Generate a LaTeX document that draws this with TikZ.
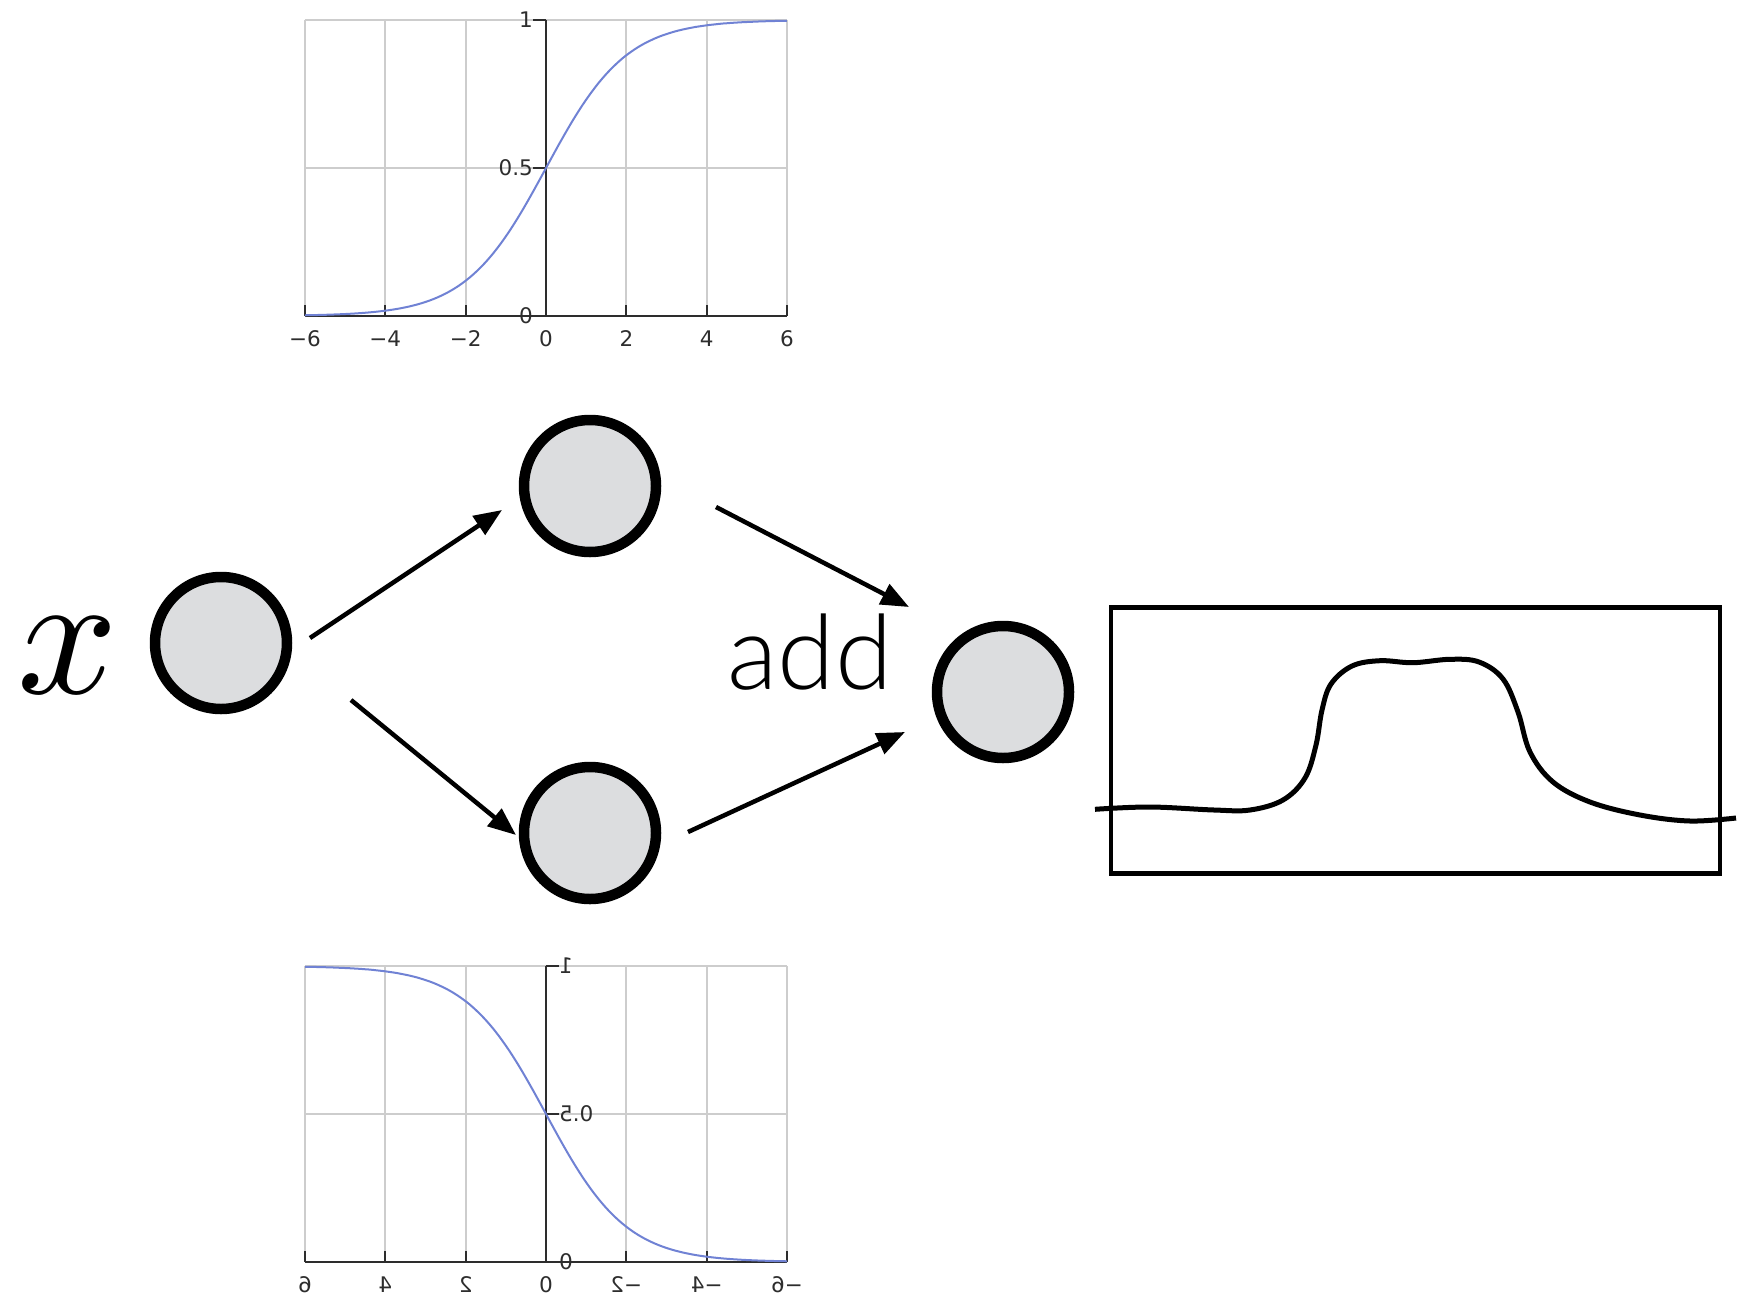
\documentclass[tikz,border=0pt]{standalone}
\usepackage{graphicx}
\usepackage{fontspec}
\usetikzlibrary{arrows.meta}
\newfontfamily\tickfont{DejaVu Sans}
\newfontfamily\addfont{Lato Light}
\definecolor{nodefill}{RGB}{220,221,223}
\definecolor{gridgray}{RGB}{205,205,205}
\definecolor{curveblue}{RGB}{112,130,212}
\definecolor{axisdark}{RGB}{45,45,45}
\tikzset{
  neuron/.style={circle, draw=black, line width=10.5pt, fill=nodefill, minimum size=132pt, inner sep=0pt},
  conn/.style={line width=4.5pt, -{Triangle[length=28pt,width=22pt]}},
  gridline/.style={gridgray, line width=2pt},
  axisline/.style={axisdark, line width=2pt},
  sigcurve/.style={curveblue, line width=2pt},
  ticklabel/.style={font=\tickfont\fontsize{21.5}{25}\selectfont, text=axisdark, inner sep=0pt},
}
\newcommand{\sigmoidplot}{%
  \foreach \xv in {-6,-4,-2,2,4,6} \draw[gridline] (\xv,0) -- (\xv,1);
  \draw[gridline] (-6,0.5) -- (6,0.5);
  \draw[gridline] (-6,1) -- (6,1);
  \draw[axisline] (-6,0) -- (6,0);
  \draw[axisline] (0,0) -- (0,1);
  \foreach \xv in {-6,-4,-2,0,2,4,6} \draw[axisline] (\xv,0) -- ++(0pt,11pt);
  \foreach \yv in {0,0.5,1} \draw[axisline] (0,\yv) -- ++(-13pt,0pt);
  \draw[sigcurve] plot[domain=-6:6, samples=121, smooth] (\x,{1/(1+exp(-\x))});
  \foreach \xv/\lab in {-6/−6,-4/−4,-2/−2,0/0,2/2,4/4,6/6}
    \node[ticklabel, yshift=-23pt] at (\xv,0) {\lab};
  \foreach \yv/\lab in {0/0,0.5/0.5,1/1}
    \node[ticklabel, anchor=east, xshift=-13pt] at (0,\yv) {\lab};
}
\begin{document}
\begin{tikzpicture}[x=1pt, y=-1pt]
  \useasboundingbox (0,0) rectangle (1739,1298);

  % sigmoid plot (top)
  \begin{scope}[shift={(546,316)}, x=40.17pt, y=296pt]
    \sigmoidplot
  \end{scope}
  % mirrored sigmoid plot (bottom)
  \begin{scope}[shift={(546,1262)}, xscale=-1, transform shape, x=40.17pt, y=296pt]
    \sigmoidplot
  \end{scope}

  % neurons
  \node[neuron] (xn) at (221,643) {};
  \node[neuron] (top) at (590,486) {};
  \node[neuron] (bot) at (590,833) {};
  \node[neuron] (add) at (1003,692) {};

  % labels
  \node[inner sep=0pt, anchor=base] (xlabel) at (68,693) {\scalebox{17.6}{$x$}};
  \node[inner sep=0pt, anchor=base, font=\addfont\fontsize{104}{110}\selectfont] (addlabel) at (810,689) {add};

  % connectors
  \draw[conn] ([shift={(89,-5)}]xn.center) -- ([shift={(-88,24)}]top.center);
  \draw[conn] ([shift={(130,57)}]xn.center) -- ([shift={(-74,2)}]bot.center);
  \draw[conn] ([shift={(126,21)}]top.center) -- ([shift={(-94,-85)}]add.center);
  \draw[conn] ([shift={(98,-1)}]bot.center) -- ([shift={(-98,40)}]add.center);

  % output box with curve
  \node[draw=black, line width=4.5pt, minimum width=609pt, minimum height=266pt, inner sep=0pt] (box) at (1415.5,740.5) {};
  \draw[line width=5pt, line cap=butt] plot[smooth, tension=0.6] coordinates {
    (1095,809.3) (1150,807) (1214,810) (1250,810)
    (1283,800) (1305,778) (1316,745) (1322,710) (1331,684)
    (1352,666) (1380,660.7) (1413,662.7) (1450,659.3) (1479,662)
    (1503,679) (1518,712) (1530,752) (1553,782) (1590,802)
    (1640,815) (1690,821) (1736,818)};
\end{tikzpicture}
\end{document}
